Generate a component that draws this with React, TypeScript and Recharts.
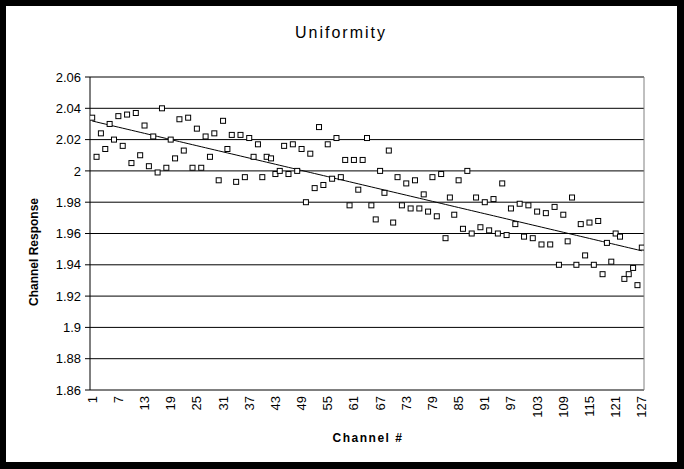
import React from 'react';
import { ComposedChart, XAxis, YAxis, CartesianGrid, Scatter, Line, ReferenceLine } from 'recharts';

const channels: number[] = Array.from({ length: 127 }, (_, i) => i + 1);

const response: number[] = [
  2.034, 2.009, 2.024, 2.014, 2.030, 2.020, 2.035, 2.016, 2.036, 2.005,
  2.037, 2.010, 2.029, 2.003, 2.022, 1.999, 2.040, 2.002, 2.020, 2.008,
  2.033, 2.013, 2.034, 2.002, 2.027, 2.002, 2.022, 2.009, 2.024, 1.994,
  2.032, 2.014, 2.023, 1.993, 2.023, 1.996, 2.021, 2.009, 2.017, 1.996,
  2.009, 2.008, 1.998, 2.000, 2.016, 1.998, 2.017, 2.000, 2.014, 1.980,
  2.011, 1.989, 2.028, 1.991, 2.017, 1.995, 2.021, 1.996, 2.007, 1.978,
  2.007, 1.988, 2.007, 2.021, 1.978, 1.969, 2.000, 1.986, 2.013, 1.967,
  1.996, 1.978, 1.992, 1.976, 1.994, 1.976, 1.985, 1.974, 1.996, 1.971,
  1.998, 1.957, 1.983, 1.972, 1.994, 1.963, 2.000, 1.960, 1.983, 1.964,
  1.980, 1.962, 1.982, 1.960, 1.992, 1.959, 1.976, 1.966, 1.979, 1.958,
  1.978, 1.957, 1.974, 1.953, 1.973, 1.953, 1.977, 1.940, 1.972, 1.955,
  1.983, 1.940, 1.966, 1.946, 1.967, 1.940, 1.968, 1.934, 1.954, 1.942,
  1.960, 1.958, 1.931, 1.934, 1.938, 1.927, 1.951,
];

const yTicks: number[] = [1.86, 1.88, 1.9, 1.92, 1.94, 1.96, 1.98, 2, 2.02, 2.04, 2.06];
const xLabelTicks: number[] = [1, 7, 13, 19, 25, 31, 37, 43, 49, 55, 61, 67, 73, 79, 85, 91, 97, 103, 109, 115, 121, 127];
const xBoundaryTicks: number[] = Array.from({ length: 128 }, (_, i) => i + 0.5);

// least-squares linear trendline (as Excel's "Linear" trendline)
const n = channels.length;
const mx = channels.reduce((a, b) => a + b, 0) / n;
const my = response.reduce((a, b) => a + b, 0) / n;
let sxy = 0;
let sxx = 0;
for (let i = 0; i < n; i++) {
  sxy += (channels[i] - mx) * (response[i] - my);
  sxx += (channels[i] - mx) * (channels[i] - mx);
}
const slope = sxy / sxx;
const intercept = my - slope * mx;

const rows = channels.map((ch, i) => ({ ch, value: response[i], trend: intercept + slope * ch }));

const FONT = '"Liberation Sans", Arial, sans-serif';

const SquareDot = (props: any) => {
  const { cx, cy } = props;
  if (cx == null || cy == null) return null;
  return <rect x={cx - 2.5} y={cy - 2.5} width={5} height={5} fill="#fff" stroke="#000" strokeWidth={1} />;
};

const XLabelTick = (props: any) => {
  const { x, y, payload } = props;
  return (
    <text
      x={x}
      y={y}
      transform={`rotate(-90 ${x} ${y})`}
      textAnchor="end"
      dominantBaseline="central"
      fontFamily={FONT}
      fontSize={13}
      fill="#000"
    >
      {payload.value}
    </text>
  );
};

export default function App() {
  return (
    <div style={{ position: 'absolute', left: 0, top: 0, width: 684, height: 469 }}>
      <div
        style={{
          position: 'absolute',
          left: 0,
          top: 0,
          width: 684,
          height: 469,
          boxSizing: 'border-box',
          background: '#fff',
          borderTop: '6px solid #000',
          borderLeft: '6px solid #000',
          borderRight: '7px solid #000',
          borderBottom: '7px solid #000',
        }}
      />
      <div style={{ position: 'absolute', left: 0, top: 0 }}>
        <ComposedChart width={684} height={469} data={rows} margin={{ top: 77, right: 40, left: 0, bottom: 0 }}>
          <CartesianGrid vertical={false} horizontal stroke="#000" strokeWidth={1} />
          <XAxis
            xAxisId="main"
            dataKey="ch"
            type="number"
            domain={[0.5, 127.5]}
            ticks={xBoundaryTicks}
            interval={0}
            tick={false}
            tickSize={3}
            height={0}
            axisLine={{ stroke: '#000', strokeWidth: 1 }}
            tickLine={{ stroke: '#000', strokeWidth: 1 }}
            allowDataOverflow
          />
          <XAxis
            xAxisId="lab"
            dataKey="ch"
            type="number"
            domain={[0.5, 127.5]}
            ticks={xLabelTicks}
            interval={0}
            tick={<XLabelTick />}
            tickSize={4}
            tickMargin={2}
            height={79}
            axisLine={false}
            tickLine={false}
            allowDataOverflow
          />
          <YAxis
            type="number"
            domain={[1.86, 2.06]}
            ticks={yTicks}
            interval={0}
            width={90}
            tickSize={5}
            tickMargin={4}
            tickFormatter={(v: number) => String(v)}
            tick={{ fontFamily: FONT, fontSize: 13, fill: '#000' }}
            axisLine={{ stroke: '#000', strokeWidth: 1 }}
            tickLine={{ stroke: '#000', strokeWidth: 1 }}
            allowDataOverflow
          />
          <ReferenceLine xAxisId="main" y={2.06} stroke="#808080" strokeWidth={1} />
          <ReferenceLine xAxisId="main" x={127.5} stroke="#808080" strokeWidth={1} />
          <Scatter xAxisId="main" dataKey="value" shape={<SquareDot />} isAnimationActive={false} />
          <Line
            xAxisId="lab"
            type="linear"
            dataKey="trend"
            stroke="#000"
            strokeWidth={1}
            dot={false}
            activeDot={false}
            isAnimationActive={false}
          />
        </ComposedChart>
      </div>
      <svg width={684} height={469} style={{ position: 'absolute', left: 0, top: 0, pointerEvents: 'none' }}>
        <text x={341} y={38} textAnchor="middle" fontFamily={FONT} fontSize={16} letterSpacing={2} fill="#000">
          Uniformity
        </text>
        <text
          x={34}
          y={252}
          transform="rotate(-90 34 252)"
          textAnchor="middle"
          dominantBaseline="central"
          fontFamily={FONT}
          fontSize={12}
          fontWeight="bold"
          fill="#000"
        >
          Channel Response
        </text>
        <text x={368} y={442} textAnchor="middle" fontFamily={FONT} fontSize={12} fontWeight="bold" letterSpacing={1.5} fill="#000">
          Channel #
        </text>
      </svg>
    </div>
  );
}
